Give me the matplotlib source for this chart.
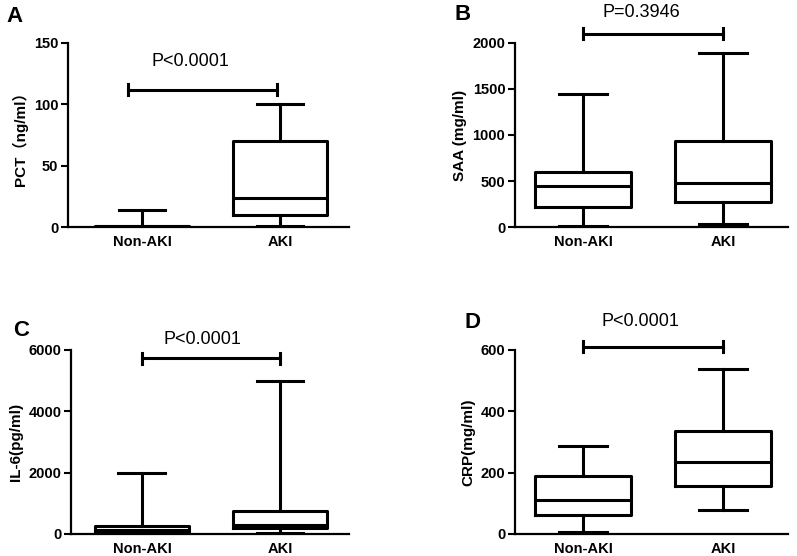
import matplotlib
matplotlib.use('Agg')
import matplotlib.pyplot as plt

plt.rcParams['font.family'] = ['Liberation Sans', 'Noto Sans CJK SC', 'DejaVu Sans']

groups = ['Non-AKI', 'AKI']

# five-number summaries: (min, q1, median, q3, max)
pct_non = (0, 0.2, 0.5, 1.0, 14)
pct_aki = (1.1, 9.8, 23.4, 70.5, 100)
saa_non = (15, 218, 450, 599, 1450)
saa_aki = (33, 276, 483, 936, 1890)
il6_non = (20, 54, 130, 272, 2000)
il6_aki = (43, 185, 293, 750, 5000)
crp_non = (5, 63, 111, 190, 287)
crp_aki = (78, 158, 235, 336, 537)

panels = [
    dict(letter='A', data=(pct_non, pct_aki), ylabel='PCT（ng/ml）', ymax=150, yticks=[0, 50, 100, 150],
         bracket=(0.90, 1.98, 112), ptext='P<0.0001', ptext_xy=(1.35, 135),
         rect=[0.0853, 0.5917, 0.3526, 0.331], xlim=(0.464, 2.5), letter_xy=(6, 16)),
    dict(letter='B', data=(saa_non, saa_aki), ylabel='SAA (mg/ml)', ymax=2000, yticks=[0, 500, 1000, 1500, 2000],
         bracket=(1.0, 2.0, 2100), ptext='P=0.3946', ptext_xy=(1.42, 2330),
         rect=[0.6462, 0.5917, 0.3425, 0.331], xlim=(0.514, 2.464), letter_xy=(455, 15)),
    dict(letter='C', data=(il6_non, il6_aki), ylabel='IL-6(pg/ml)', ymax=6000, yticks=[0, 2000, 4000, 6000],
         bracket=(1.0, 2.0, 5730), ptext='P<0.0001', ptext_xy=(1.44, 6330),
         rect=[0.0891, 0.0396, 0.3488, 0.331], xlim=(0.486, 2.5), letter_xy=(13, 330)),
    dict(letter='D', data=(crp_non, crp_aki), ylabel='CRP(mg/ml)', ymax=600, yticks=[0, 200, 400, 600],
         bracket=(1.0, 2.0, 611), ptext='P<0.0001', ptext_xy=(1.41, 692),
         rect=[0.6462, 0.0396, 0.3425, 0.331], xlim=(0.514, 2.464), letter_xy=(465, 323)),
]

fig = plt.figure(figsize=(7.97, 5.56), dpi=100)

lw = 2.2
for p in panels:
    ax = fig.add_axes(p['rect'])
    stats = []
    for name, (lo, q1, med, q3, hi) in zip(groups, p['data']):
        stats.append(dict(label=name, whislo=lo, q1=q1, med=med, q3=q3, whishi=hi, fliers=[]))
    ax.bxp(stats, positions=[1, 2], widths=0.68, capwidths=0.34, showfliers=False,
           boxprops=dict(color='black', linewidth=lw),
           whiskerprops=dict(color='black', linewidth=lw),
           capprops=dict(color='black', linewidth=lw),
           medianprops=dict(color='black', linewidth=lw))
    ax.set_xlim(*p['xlim'])
    ax.set_ylim(0, p['ymax'])
    ax.set_yticks(p['yticks'])
    ax.set_xticks([1, 2])
    ax.set_xticklabels(groups, fontweight='bold', fontsize=10.5)
    for lab in ax.get_yticklabels():
        lab.set_fontweight('bold')
        lab.set_fontsize(10.5)
    ax.tick_params(axis='x', length=0, pad=6)
    ax.tick_params(axis='y', length=5, width=1.5, direction='out', pad=2)
    for s in ['top', 'right']:
        ax.spines[s].set_visible(False)
    for s in ['left', 'bottom']:
        ax.spines[s].set_linewidth(1.6)
    ax.set_ylabel(p['ylabel'], fontweight='bold', fontsize=11)

    # significance bracket
    x0, x1, yb = p['bracket']
    ax.plot([x0, x1], [yb, yb], color='black', linewidth=lw, clip_on=False)
    tick_h = p['ymax'] * 0.03
    for xx in (x0, x1):
        ax.plot([xx, xx], [yb - tick_h, yb + tick_h], color='black', linewidth=lw, clip_on=False)
    ax.text(p['ptext_xy'][0], p['ptext_xy'][1], p['ptext'], ha='center', va='center', fontsize=13)

    lx, ly = p['letter_xy']
    fig.text(lx / 797, 1 - ly / 556, p['letter'], fontsize=16, fontweight='bold', ha='left', va='center')

fig.savefig('out.png', dpi=100)
